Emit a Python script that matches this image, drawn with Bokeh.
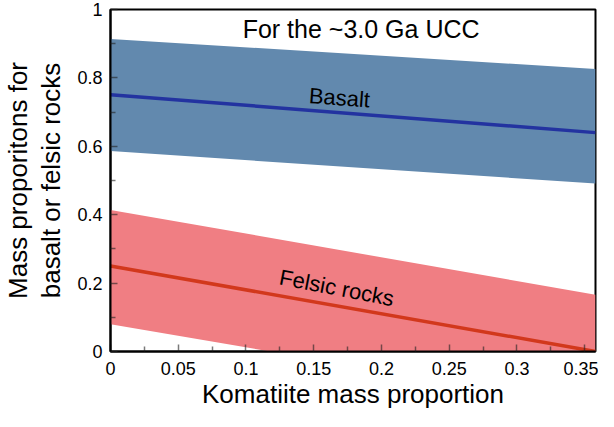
from bokeh.plotting import figure
from bokeh.models import Range1d, Label, FixedTicker
from bokeh.embed import file_html
from bokeh.resources import INLINE

# Data
x_ends = [0.0, 0.358]
basalt_mid = [0.751, 0.640]
basalt_low = [0.586, 0.491]
basalt_high = [0.914, 0.826]
felsic_mid = [0.250, 0.000]
felsic_low = [0.080, -0.163]
felsic_high = [0.414, 0.166]

x_ticks = [0, 0.05, 0.1, 0.15, 0.2, 0.25, 0.3, 0.35]
x_minor = [0.025, 0.075, 0.125, 0.175, 0.225, 0.275, 0.325]
y_ticks = [0, 0.2, 0.4, 0.6, 0.8, 1.0]
y_minor = [0.1, 0.3, 0.5, 0.7, 0.9]
x_tick_labels = {0: "0", 0.05: "0.05", 0.1: "0.1", 0.15: "0.15", 0.2: "0.2",
                 0.25: "0.25", 0.3: "0.3", 0.35: "0.35"}
y_tick_labels = {0: "0", 0.2: "0.2", 0.4: "0.4", 0.6: "0.6", 0.8: "0.8", 1.0: "1"}

FONT = "Liberation Sans"

p = figure(width=598, height=411, output_backend="svg", toolbar_location=None,
           x_range=Range1d(0, 0.358), y_range=Range1d(0, 1),
           min_border_left=96, min_border_right=3, min_border_top=9, min_border_bottom=4)
p.grid.visible = False
p.outline_line_color = "black"
p.outline_line_width = 2
p.background_fill_color = "white"
p.border_fill_color = "white"

p.varea(x=x_ends, y1=basalt_low, y2=basalt_high, fill_color="#6289AE")
p.varea(x=x_ends, y1=felsic_low, y2=felsic_high, fill_color="#F07E83")
p.line(x_ends, basalt_mid, line_color="#2333A0", line_width=3.5)
p.line(x_ends, felsic_mid, line_color="#D2381C", line_width=3.5)

for ax in (p.xaxis[0], p.yaxis[0]):
    ax.axis_line_color = "black"
    ax.axis_line_width = 2
    ax.major_tick_in = 7
    ax.major_tick_out = 0
    ax.minor_tick_in = 5
    ax.minor_tick_out = 0
    ax.major_tick_line_color = "#222222"
    ax.major_tick_line_alpha = 0.6
    ax.minor_tick_line_color = "#222222"
    ax.minor_tick_line_alpha = 0.6
    ax.major_tick_line_width = 1.5
    ax.minor_tick_line_width = 1.5
    ax.major_label_text_font = FONT
    ax.major_label_text_font_size = "18px"
    ax.major_label_text_color = "black"
    ax.axis_label_text_font = FONT
    ax.axis_label_text_font_style = "normal"
    ax.axis_label_text_color = "black"

p.xaxis.ticker = FixedTicker(ticks=x_ticks, minor_ticks=x_minor)
p.yaxis.ticker = FixedTicker(ticks=y_ticks, minor_ticks=y_minor)
p.xaxis.major_label_overrides = x_tick_labels
p.yaxis.major_label_overrides = y_tick_labels
p.xaxis.major_label_standoff = 10
p.yaxis.major_label_standoff = 8

p.xaxis.axis_label = "Komatiite mass proportion"
p.xaxis.axis_label_text_font_size = "26px"
p.xaxis.axis_label_standoff = 1
p.yaxis.axis_label = "Mass proporitons for\nbasalt or felsic rocks"
p.yaxis.axis_label_text_font_size = "26px"
p.yaxis.axis_label_text_line_height = 1.1
p.yaxis.axis_label_standoff = 8

p.add_layout(Label(x=0.185, y=0.943, text="For the ~3.0 Ga UCC", text_font=FONT,
                   text_font_size="25px", text_align="center", text_baseline="middle",
                   text_color="black"))
p.add_layout(Label(x=0.169, y=0.742, text="Basalt", text_font=FONT,
                   text_font_size="22px", text_align="center", text_baseline="middle",
                   angle=-0.075, text_color="black"))
p.add_layout(Label(x=0.167, y=0.186, text="Felsic rocks", text_font=FONT,
                   text_font_size="22px", text_align="center", text_baseline="middle",
                   angle=-0.19, text_color="black"))

open("out.html", "w").write(file_html(p, INLINE))
